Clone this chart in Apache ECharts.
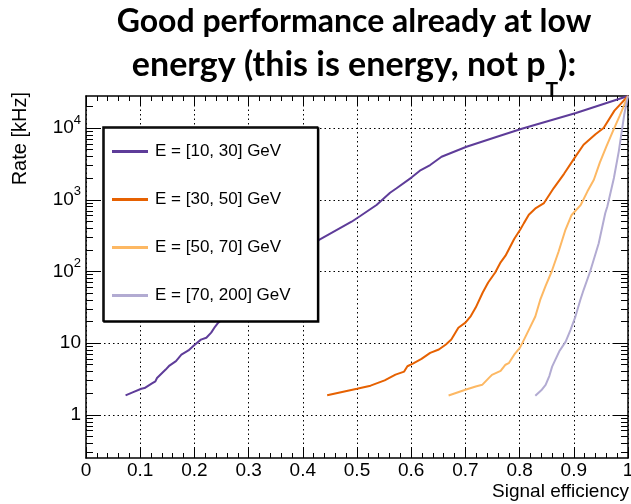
<!DOCTYPE html>
<html>
<head>
<meta charset="utf-8">
<script src="https://cdn.jsdelivr.net/npm/echarts@6/dist/echarts.min.js"></script>
<style>
  html, body { margin: 0; padding: 0; background: #fff; }
  #chart { width: 631px; height: 504px; }
</style>
</head>
<body>
<div id="chart"></div>
<script>
// Rate vs signal efficiency for four energy bins
const seriesNames = ['E = [10, 30] GeV', 'E = [30, 50] GeV', 'E = [50, 70] GeV', 'E = [70, 200] GeV'];
const seriesColors = ['#5e3c99', '#e66101', '#fdb863', '#b2abd2'];

const effE10 = [0.073, 0.086, 0.102, 0.108, 0.121, 0.128, 0.131, 0.147, 0.154, 0.166, 0.176, 0.189, 0.199, 0.212, 0.222, 0.231, 0.238, 0.244,
                0.430, 0.490, 0.506, 0.536, 0.561, 0.573, 0.601, 0.616, 0.635, 0.656, 0.702, 0.764, 0.804, 0.904, 1.0];
const rateE10 = [1.87, 2.06, 2.31, 2.36, 2.72, 2.93, 3.27, 4.28, 4.87, 5.6, 6.9, 7.9, 9.3, 11.2, 11.9, 14, 16.9, 19.3,
                 275, 494, 594, 845, 1254, 1445, 2055, 2540, 3050, 3980, 5480, 7810, 9800, 16200, 28000];

const effE30 = [0.445, 0.500, 0.525, 0.551, 0.571, 0.587, 0.593, 0.603, 0.619, 0.635, 0.651, 0.664, 0.674, 0.687, 0.700, 0.710, 0.719,
                0.732, 0.742, 0.755, 0.765, 0.774, 0.790, 0.801, 0.808, 0.817, 0.830, 0.845, 0.863, 0.882, 0.903, 0.918, 0.940, 0.955, 0.975, 1.0];
const rateE30 = [1.87, 2.31, 2.55, 3.03, 3.64, 4.01, 4.76, 5.19, 6.03, 7.31, 8.15, 9.58, 11.2, 16.4, 19.3, 23.9, 31.3,
                 50.8, 70.2, 96.8, 134, 166, 284, 381, 472, 617, 766, 900, 1455, 2300, 4000, 5850, 8200, 10000, 17500, 28000];

const effE50 = [0.669, 0.700, 0.719, 0.731, 0.743, 0.749, 0.765, 0.774, 0.780, 0.790, 0.800, 0.805, 0.817, 0.829, 0.838, 0.848,
                0.859, 0.872, 0.884, 0.896, 0.913, 0.925, 0.937, 0.948, 0.960, 0.972, 0.985, 1.0];
const rateE50 = [1.86, 2.24, 2.49, 2.62, 3.25, 3.61, 4.1, 5.0, 5.25, 6.9, 8.5, 10, 15.3, 23.5, 40, 63,
                 99, 190, 370, 613, 850, 1300, 1900, 3300, 5500, 9000, 15000, 28000];

const effE70 = [0.829, 0.840, 0.848, 0.855, 0.860, 0.873, 0.885, 0.894, 0.903, 0.912, 0.918, 0.930, 0.946, 0.958, 0.962, 0.974, 0.983, 0.993, 1.0];
const rateE70 = [1.84, 2.2, 2.62, 3.5, 4.7, 7.63, 10.5, 15.3, 23.5, 40, 55, 99, 247, 647, 811, 2010, 4730, 15300, 28000];

const effBins = [effE10, effE30, effE50, effE70];
const rateBins = [rateE10, rateE30, rateE50, rateE70];

// axis ranges and tick values
const effMin = 0, effMax = 1, effStep = 0.1;
const rateMin = 0.25, rateMax = 28000;
const rateDecades = [1, 10, 100, 1000, 10000];
const minorMultipliers = [2, 3, 4, 5, 6, 7, 8, 9];

const rateMinor = [];
[0.1].concat(rateDecades).forEach(d => {
  minorMultipliers.forEach(m => {
    const v = d * m;
    if (v > rateMin && v < rateMax) rateMinor.push(v);
  });
});

const axisFont = 'Liberation Sans, Arial, Helvetica, sans-serif';
const titleFont = 'Lato, Open Sans, sans-serif';
const frame = { show: true, onZero: false, lineStyle: { color: '#000', width: 1.5 } };
const gridDots = { show: true, lineStyle: { color: '#000', width: 1, type: [1.5, 3] } };

function xAxisSpec(pos, withLabels) {
  return {
    type: 'value', position: pos, min: effMin, max: effMax, interval: effStep,
    axisLine: frame,
    axisTick: { show: true, inside: true, length: 10, lineStyle: { color: '#000', width: 1 } },
    minorTick: { show: true, splitNumber: 5, length: 5, lineStyle: { color: '#000', width: 1 } },
    axisLabel: withLabels ? { show: true, margin: 3, color: '#000', fontFamily: axisFont, fontSize: 19 } : { show: false },
    splitLine: withLabels ? gridDots : { show: false },
    minorSplitLine: { show: false }
  };
}

function yAxisSpec(pos, ticks, tickLen, withLine, withLabels) {
  return {
    type: 'log', logBase: 10, position: pos, min: rateMin, max: rateMax,
    axisLine: withLine ? frame : { show: false, onZero: false },
    axisTick: { show: true, inside: true, length: tickLen, customValues: ticks, lineStyle: { color: '#000', width: 1 } },
    axisLabel: withLabels ? {
      show: true, margin: 5, color: '#000', fontFamily: axisFont, fontSize: 19,
      customValues: rateDecades,
      formatter: v => {
        const p = Math.round(Math.log10(v));
        return p < 2 ? String(Math.round(v)) : '10{sup|' + p + '}';
      },
      rich: { sup: { fontSize: 13, fontFamily: axisFont, color: '#000', padding: [0, 0, 16, 0] } }
    } : { show: false },
    splitLine: withLabels ? gridDots : { show: false }
  };
}

const chart = echarts.init(document.getElementById('chart'), null, { renderer: 'canvas' });

chart.setOption({
  animation: false,
  backgroundColor: '#fff',
  grid: { left: 86, right: 3, top: 96, bottom: 46, containLabel: false, outerBoundsMode: 'none' },
  xAxis: [xAxisSpec('bottom', true), xAxisSpec('top', false)],
  yAxis: [
    yAxisSpec('left', rateDecades, 14, true, true),
    yAxisSpec('right', rateDecades, 14, true, false),
    yAxisSpec('left', rateMinor, 7, false, false),
    yAxisSpec('right', rateMinor, 7, false, false)
  ],
  legend: {
    orient: 'vertical', left: 103, top: 127,
    padding: [16, 27, 17, 9], itemGap: 31,
    itemWidth: 36, itemHeight: 3, icon: 'rect',
    backgroundColor: '#fff', borderColor: '#000', borderWidth: 1.5,
    shadowColor: '#000', shadowOffsetX: 1, shadowOffsetY: 1, shadowBlur: 0,
    textStyle: { color: '#000', fontFamily: axisFont, fontSize: 17, padding: [0, 0, 0, 2] },
    data: seriesNames
  },
  graphic: [
    {
      type: 'text', x: 354, y: 6, z: 10,
      style: {
        text: '{n|Good performance already at low}\n{m|energy (this is energy, not p}{s|T}{m|):}',
        align: 'center', verticalAlign: 'top',
        rich: {
          n: { fontFamily: titleFont, fontWeight: 'bold', fontSize: 32, lineHeight: 42, verticalAlign: 'top', fill: '#000' },
          m: { fontFamily: titleFont, fontWeight: 'bold', fontSize: 34, lineHeight: 42, verticalAlign: 'top', fill: '#000' },
          s: { fontFamily: titleFont, fontWeight: 'bold', fontSize: 21, lineHeight: 21, verticalAlign: 'top', padding: [32, 0, 0, 0], fill: '#000' }
        }
      }
    },
    {
      type: 'text', x: 629, y: 492,
      style: { text: 'Signal efficiency', align: 'right', verticalAlign: 'middle', font: '19px ' + axisFont, fill: '#000' }
    },
    {
      type: 'text', x: 20, y: 92, rotation: Math.PI / 2,
      style: { text: 'Rate [kHz]', align: 'right', verticalAlign: 'middle', font: '20px ' + axisFont, fill: '#000' }
    }
  ],
  series: seriesNames.map((name, k) => ({
    name: name,
    type: 'line',
    xAxisIndex: 0, yAxisIndex: 0,
    showSymbol: false, symbol: 'none',
    color: seriesColors[k],
    lineStyle: { color: seriesColors[k], width: 2 },
    data: effBins[k].map((e, i) => [e, rateBins[k][i]]),
    z: 2
  }))
});
</script>
</body>
</html>
